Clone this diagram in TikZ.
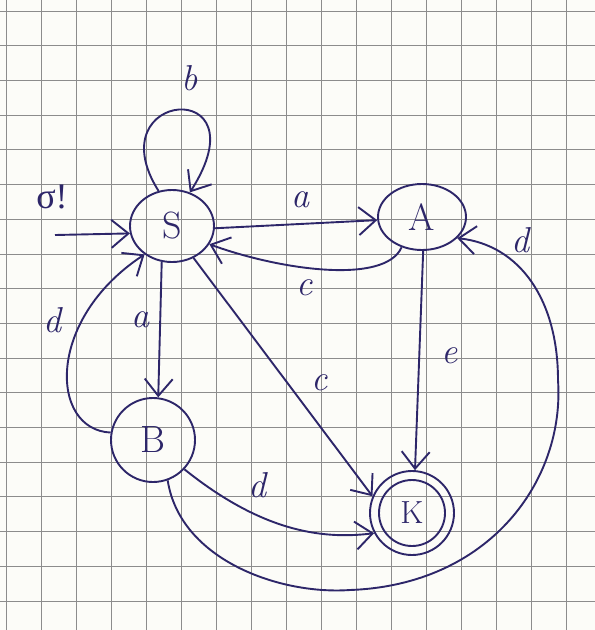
\documentclass[tikz,border=0pt]{standalone}
\usepackage{fontspec}
\newfontfamily\grk{Liberation Serif}
\usetikzlibrary{arrows.meta,shapes.geometric}
\definecolor{ink}{RGB}{45,38,105}
\definecolor{paper}{RGB}{252,252,248}
\definecolor{gridc}{RGB}{140,140,140}
\begin{document}
\begin{tikzpicture}[x=1pt,y=-1pt,
  state/.style={draw=ink, line width=1.9pt, ellipse, inner sep=0pt, text=ink, font=\fontsize{38}{38}\selectfont},
  edge/.style={draw=ink, line width=1.9pt, -{Straight Barb[length=17pt,width=28pt,line width=1.9pt]}},
  lab/.style={text=ink, inner sep=0pt, font=\fontsize{36}{36}\selectfont\itshape},
  gridline/.style={draw=gridc, line width=0.8pt}]
\useasboundingbox (0,0) rectangle (595,630);
\fill[paper] (0,0) rectangle (595,630);
\foreach \i in {0,...,16} \draw[gridline] ({6+35*\i},0) -- ({6+35*\i},630);
\foreach \j in {0,...,17} \draw[gridline] (0,{11+34.7*\j}) -- (595,{11+34.7*\j});

% states
\node[state, minimum width=84pt, minimum height=72pt] (S) at (172,226) {S};
\node[state, minimum width=88pt, minimum height=66pt] (A) at (422,217) {A};
\node[state, circle, minimum size=84pt] (B) at (153,440) {B};
\node[state, circle, minimum size=84pt, font=\fontsize{32}{32}\selectfont] (K) at (412,513) {K};
\draw[ink, line width=1.9pt] (K.center) circle[radius=33];

% start
\coordinate (start) at (55,235);
\node[lab, font=\fontsize{36}{36}\selectfont\grk] (sig) at (52,197) {σ!};
\draw[edge] (start) -- (S.190);

% loop b
\draw[edge] (S.111) .. controls (95,90) and (265,75) .. (S.62);
\node[lab] (lb) at (190,78) {b};

% S -> A  a
\draw[edge] (S.-3) -- (A.184);
\node[lab] (la1) at (300,200) {a};

% A -> S  c
\draw[edge] (A.236) .. controls (385,285) and (280,270) .. (S.-26);
\node[lab] (lc1) at (305,288) {c};

% S -> B  a
\draw[edge] (S.254) -- (B.83);
\node[lab] (la2) at (140,320) {a};

% B -> S  d
\draw[edge] (B.170) .. controls (50,430) and (45,320) .. (S.226);
\node[lab] (ld1) at (52,320) {d};

% S -> K  c
\draw[edge] (S.-56) -- (K.157);
\node[lab] (lc2) at (320,383) {c};

% A -> K  e
\draw[edge] (A.272) -- (K.86);
\node[lab] (le) at (450,356) {e};

% B -> K  d
\draw[edge] (B.-43) .. controls (260,530) and (320,540) .. (K.208);
\node[lab] (ld2) at (257,485) {d};

% B -> A  d
\draw[edge] (B.-70) .. controls (180,560) and (280,595) .. (350,590)
  .. controls (490,585) and (565,480) .. (558,380)
  .. controls (558,300) and (520,245) .. (A.-31);
\node[lab] (ld3) at (520,240) {d};
\end{tikzpicture}
\end{document}
